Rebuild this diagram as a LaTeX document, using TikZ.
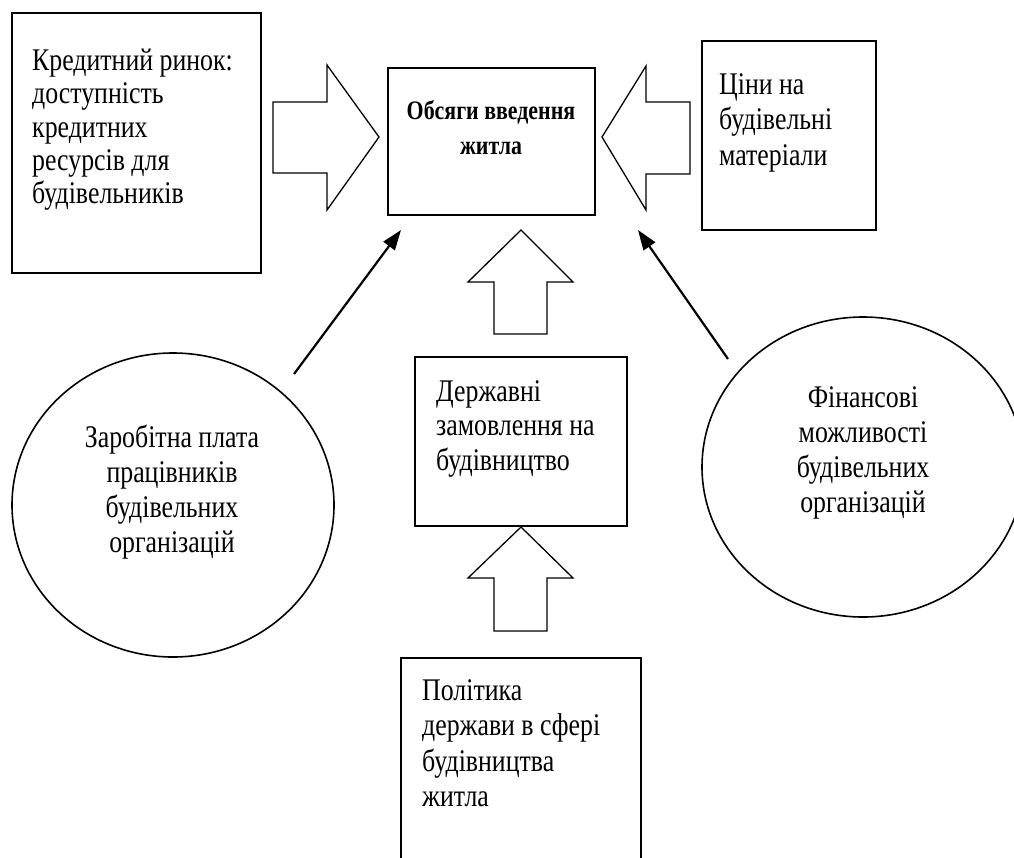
\documentclass[tikz,border=0pt]{standalone}
\usepackage{fontspec}
\setmainfont{Liberation Serif}[FakeStretch=0.82]
\usetikzlibrary{arrows.meta,shapes.geometric}
\newcommand\fstrut{\rule{0pt}{25pt}}
\begin{document}
\begin{tikzpicture}[x=1pt,y=-1pt,
  box/.style={draw, line width=1.6pt, rectangle, inner sep=0pt, fill=white},
  oval/.style={draw, line width=1.6pt, ellipse, inner sep=0pt},
  blockarrow/.style={draw, line width=1.3pt, line join=miter},
  thinarrow/.style={line width=2.2pt, -{Triangle[length=20pt,width=14pt]}},
  txt/.style={inner sep=0pt, align=left, anchor=north west, font=\fontsize{31.5}{34.5}\selectfont},
  ctxt/.style={inner sep=0pt, align=center, anchor=north, font=\fontsize{31.5}{35}\selectfont}
]
\useasboundingbox (0,0) rectangle (1014,857);
\clip (0,0) rectangle (1014,857);

% boxes
\node[box, minimum width=249pt, minimum height=260pt] (kred) at (136.5,143) {};
\node[box, minimum width=207pt, minimum height=147pt] (main) at (491.5,141.5) {};
\node[box, minimum width=174pt, minimum height=189pt] (tsiny) at (789,135.5) {};
\node[box, minimum width=212pt, minimum height=169pt] (derzh) at (521,441.5) {};
\node[box, minimum width=240pt, minimum height=240pt] (polit) at (521,778) {};

% ellipses
\node[oval, minimum width=322pt, minimum height=304pt] (zarp) at (173,505) {};
\node[oval, minimum width=322pt, minimum height=300pt] (fin) at (863,467) {};

% texts
\node[txt, font=\fontsize{31.5}{33.4}\selectfont] (kredtxt) at (32,45) {\fstrut Кредитний ринок:\\доступність\\кредитних\\ресурсів для\\будівельників};
\node[ctxt, font=\fontsize{26.7}{35}\selectfont\bfseries] (maintxt) at (491,94) {\fstrut Обсяги введення\\житла};
\node[txt, font=\fontsize{31.5}{35.5}\selectfont] (tsinytxt) at (719,69) {\fstrut Ціни на\\будівельні\\матеріали};
\node[txt] (derzhtxt) at (436,376) {\fstrut Державні\\замовлення на\\будівництво};
\node[txt, font=\fontsize{31.5}{35.5}\selectfont] (polittxt) at (422,675) {\fstrut Політика\\держави в сфері\\будівництва\\житла};
\node[ctxt] (zarptxt) at (172,422) {\fstrut Заробітна плата\\працівників\\будівельних\\організацій};
\node[ctxt] (fintxt) at (863,382) {\fstrut Фінансові\\можливості\\будівельних\\організацій};

% block arrows
\draw[blockarrow] (273,102) -- (327,102) -- (327,65) -- (379,137) -- (327,210) -- (327,173) -- (273,173) -- cycle;
\draw[blockarrow] (690,102) -- (646,102) -- (646,66) -- (602,137) -- (646,210) -- (646,174) -- (690,174) -- cycle;
\draw[blockarrow] (494,334) -- (494,282) -- (468,282) -- (521,230) -- (573,282) -- (547,282) -- (547,334) -- cycle;
\draw[blockarrow] (494,631) -- (494,578) -- (468,578) -- (521,527) -- (573,578) -- (547,578) -- (547,631) -- cycle;

% thin arrows
\coordinate (la1) at (294,374);
\coordinate (la2) at (401,230);
\coordinate (ra1) at (728,359);
\coordinate (ra2) at (638,230);
\draw[thinarrow] (la1) -- (la2);
\draw[thinarrow] (ra1) -- (ra2);
\end{tikzpicture}
\end{document}
